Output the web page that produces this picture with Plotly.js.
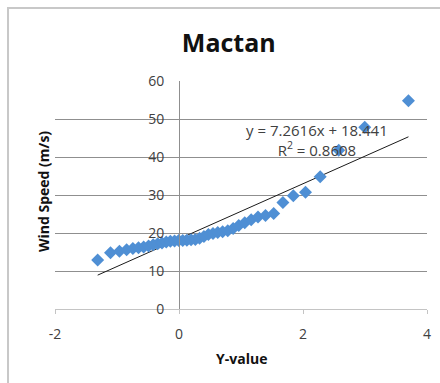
<!DOCTYPE html>
<html>
<head>
<meta charset="utf-8">
<script src="https://cdn.plot.ly/plotly-3.0.1.min.js"></script>
<style>
  html, body { margin: 0; padding: 0; background: #ffffff; }
  #chart { width: 440px; height: 383px; }
</style>
</head>
<body>
<div id="chart"></div>
<script>
// Gumbel reduced variate ("Y-value") for each ranked observation
const yValue = [
  -1.312, -1.105, -0.961, -0.845, -0.744, -0.653, -0.570, -0.491, -0.416, -0.344,
  -0.274, -0.206, -0.139, -0.072, -0.005, 0.061, 0.127, 0.195, 0.263, 0.332,
  0.402, 0.474, 0.548, 0.625, 0.704, 0.786, 0.873, 0.964, 1.061, 1.164,
  1.274, 1.395, 1.527, 1.676, 1.844, 2.040, 2.277, 2.577, 2.996, 3.701
];
// Ranked wind speed (m/s)
const windSpeed = [
  12.9, 14.8, 15.2, 15.6, 15.9, 16.1, 16.3, 16.6, 16.9, 17.2,
  17.4, 17.6, 17.8, 17.9, 18.0, 18.0, 18.1, 18.2, 18.3, 18.6,
  19.1, 19.6, 19.9, 20.1, 20.3, 20.6, 21.2, 22.0, 22.7, 23.5,
  24.2, 24.6, 25.1, 28.0, 29.8, 30.7, 34.8, 41.8, 47.8, 54.8
];
// Linear trendline reported on the chart
const trendSlope = 7.2616;
const trendIntercept = 18.441;
const trendR2 = 0.8608;

const chartTitle = "Mactan";
const xTitle = "Y-value";
const yTitle = "Wind Speed (m/s)";
const xTicks = [-2, 0, 2, 4];
const yTicks = [0, 10, 20, 30, 40, 50, 60];

const xMin = Math.min(...yValue);
const xMax = Math.max(...yValue);
const trendX = [xMin, xMax];
const trendY = trendX.map(v => trendSlope * v + trendIntercept);

const points = {
  x: yValue, y: windSpeed, type: "scatter", mode: "markers",
  marker: { symbol: "diamond", size: 10, color: "#4f8fd4" },
  hoverinfo: "x+y", showlegend: false
};
const trend = {
  x: trendX, y: trendY, type: "scatter", mode: "lines",
  line: { color: "#1a1a1a", width: 1 },
  hoverinfo: "skip", showlegend: false
};

const baseFont = "'Open Sans', 'Liberation Sans', sans-serif";

const layout = {
  width: 440, height: 383,
  margin: { l: 55, r: 13, t: 81, b: 74 },
  paper_bgcolor: "#ffffff", plot_bgcolor: "#ffffff",
  font: { family: baseFont, color: "#404040", size: 14 },
  title: {
    text: "<b>" + chartTitle + "</b>",
    font: { family: baseFont, size: 25, color: "#111111" },
    x: 0.52, xref: "container", xanchor: "center",
    y: 0.888, yref: "container", yanchor: "middle"
  },
  xaxis: {
    range: [-2, 4], tickvals: xTicks, ticktext: xTicks.map(String),
    showgrid: false, zeroline: false,
    showline: true, linecolor: "#c4c4c4", linewidth: 1,
    ticks: "outside", ticklen: 4, tickcolor: "#c4c4c4",
    ticklabelstandoff: 8,
    tickfont: { size: 14, color: "#404040" }
  },
  yaxis: {
    range: [0, 60], tickvals: yTicks, ticktext: yTicks.map(String),
    anchor: "free", position: 1 / 3,
    showgrid: true, gridcolor: "#8f8f8f", gridwidth: 1,
    zeroline: false,
    showline: true, linecolor: "#8f8f8f", linewidth: 1,
    ticks: "", ticklabelstandoff: 12,
    tickfont: { size: 14, color: "#404040" }
  },
  shapes: [{
    type: "rect", xref: "paper", yref: "paper",
    x0: -0.1263, x1: 1.3, y0: -0.6, y1: 1.32,
    line: { color: "#c8c8c8", width: 2 }, fillcolor: "rgba(0,0,0,0)",
    layer: "below"
  }],
  annotations: [
    {
      text: "<b>" + yTitle + "</b>", xref: "paper", yref: "paper",
      x: -0.0323, y: 0.5175, xanchor: "center", yanchor: "middle",
      textangle: -90, showarrow: false,
      font: { size: 14, color: "#111111" }
    },
    {
      text: "<b>" + xTitle + "</b>", xref: "paper", yref: "paper",
      x: 0.5, y: -0.215, xanchor: "center", yanchor: "middle",
      showarrow: false, font: { size: 14, color: "#111111" }
    },
    {
      text: "y = " + trendSlope + "x + " + trendIntercept + "<br>R<sup>2</sup> = " + trendR2,
      xref: "x", yref: "y", x: 2.226, y: 44.5,
      xanchor: "center", yanchor: "middle", align: "center",
      showarrow: false, font: { size: 15, color: "#404040" }
    }
  ]
};

Plotly.newPlot("chart", [trend, points], layout, { displayModeBar: false, responsive: false });
</script>
</body>
</html>
